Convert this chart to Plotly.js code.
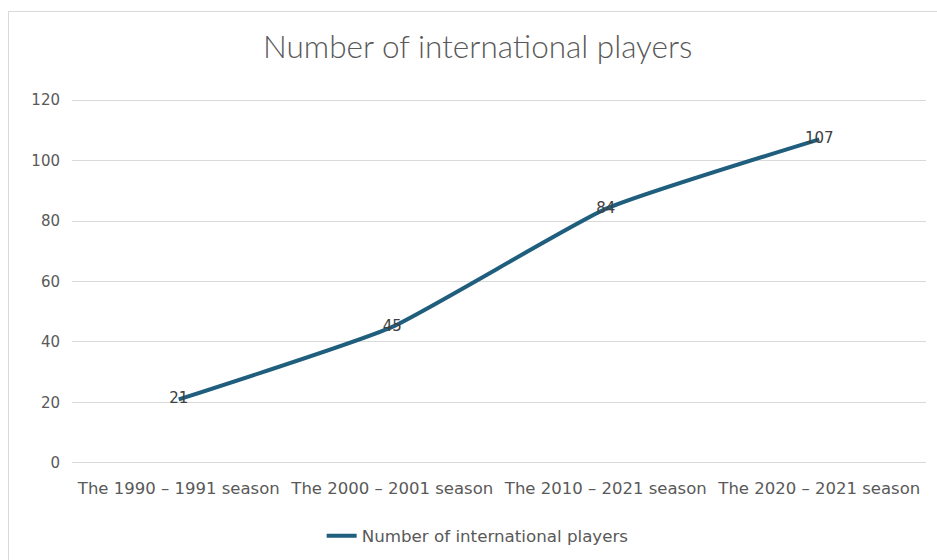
<!DOCTYPE html>
<html>
<head>
<meta charset="utf-8">
<script src="https://cdn.plot.ly/plotly-3.0.1.min.js"></script>
<style>
  html, body { margin: 0; padding: 0; background: #ffffff; }
  #wrap { position: relative; width: 937px; height: 560px; overflow: hidden; }
  #chart { position: absolute; left: 0; top: 0; width: 937px; height: 560px; }
  #frame { position: absolute; left: 8px; top: 11px; width: 940px; height: 560px;
           border: 1px solid #d9d9d9; box-sizing: border-box; pointer-events: none; }
</style>
</head>
<body>
<div id="wrap">
  <div id="chart"></div>
  <div id="frame"></div>
</div>
<script>
const categories = [
  "The 1990 \u2013 1991 season",
  "The 2000 \u2013 2001 season",
  "The 2010 \u2013 2021 season",
  "The 2020 \u2013 2021 season"
];
const players = [21, 45, 84, 107];
const seriesName = "Number of international players";
const chartTitle = "Number of international players";
const yTicks = [0, 20, 40, 60, 80, 100, 120];

const trace = {
  type: "scatter",
  mode: "lines+text",
  x: categories,
  y: players,
  name: seriesName,
  text: players.map(String),
  textposition: "middle center",
  textfont: { family: "DejaVu Sans", size: 15, color: "#404040" },
  line: { color: "#1f5e7d", width: 4, shape: "spline", smoothing: 0.45 },
  showlegend: false,
  hoverinfo: "x+y"
};

const legendTrace = {
  type: "scatter",
  mode: "lines",
  x: [categories[0]],
  y: [null],
  name: seriesName,
  line: { color: "#1f5e7d", width: 4 },
  showlegend: true,
  hoverinfo: "skip"
};

const layout = {
  width: 937,
  height: 560,
  paper_bgcolor: "#ffffff",
  plot_bgcolor: "#ffffff",
  margin: { l: 72, r: 11, t: 94, b: 91, autoexpand: false },
  title: {
    text: chartTitle,
    font: { family: "Lato, 'Open Sans', sans-serif", size: 31.5, color: "#595959", weight: 300 },
    x: 0.475, xref: "paper", xanchor: "center",
    y: 47, yref: "container", yanchor: "middle"
  },
  xaxis: {
    type: "category",
    range: [-0.5, 3.5],
    showgrid: false,
    showline: false,
    zeroline: false,
    ticks: "",
    ticklabelstandoff: 7,
    tickfont: { family: "DejaVu Sans", size: 16.5, color: "#595959" },
    fixedrange: true
  },
  yaxis: {
    range: [-2, 122],
    tickvals: yTicks,
    showgrid: true,
    gridcolor: "#d9d9d9",
    gridwidth: 1,
    zeroline: false,
    showline: false,
    ticks: "",
    ticklabelstandoff: 11,
    tickfont: { family: "DejaVu Sans", size: 15, color: "#595959" },
    fixedrange: true
  },
  showlegend: true,
  legend: {
    orientation: "h",
    x: 0.475, xanchor: "center", xref: "paper",
    y: 0.043, yanchor: "middle", yref: "container",
    font: { family: "DejaVu Sans", size: 16.7, color: "#595959" },
    bgcolor: "rgba(0,0,0,0)"
  }
};

Plotly.newPlot("chart", [trace, legendTrace], layout, { displayModeBar: false, staticPlot: true });
</script>
</body>
</html>
